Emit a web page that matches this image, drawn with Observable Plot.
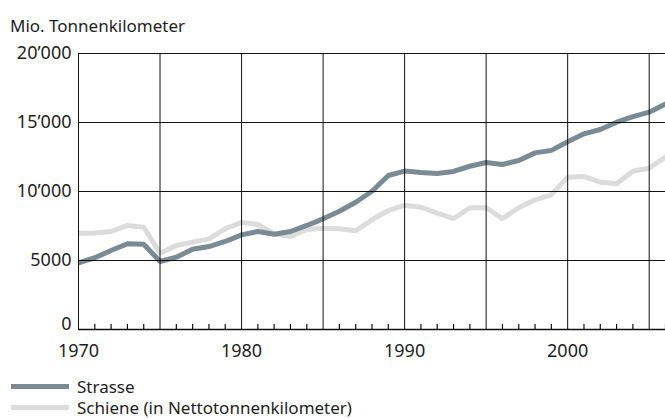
<!DOCTYPE html>
<html><head><meta charset="utf-8">
<script src="https://cdn.jsdelivr.net/npm/d3@7"></script>
<script src="https://cdn.jsdelivr.net/npm/@observablehq/plot@0.6"></script>
<style>
body{margin:0;background:#fff;font-family:"Noto Sans",sans-serif;color:#1e1e1e;}
#wrap{position:relative;width:665px;height:419px;overflow:hidden;}
#title{height:38px;font-size:17px;line-height:20px;padding-left:10px;box-sizing:border-box;padding-top:16px;}
#legend{position:relative;height:49px;font-size:17px;}
.row{position:absolute;left:11px;height:21px;display:flex;align-items:center;}
.sw{width:58px;height:5px;margin-right:8px;}
svg{display:block;}
</style></head>
<body><div id="wrap">
<div id="title">Mio. Tonnenkilometer</div>
<div id="chart"></div>
<div id="legend"></div>
</div>
<script>
const years = [1970,1971,1972,1973,1974,1975,1976,1977,1978,1979,1980,1981,1982,1983,1984,1985,1986,1987,1988,1989,1990,1991,1992,1993,1994,1995,1996,1997,1998,1999,2000,2001,2002,2003,2004,2005,2006];
const strasse = [4830,5200,5720,6210,6180,4930,5240,5820,6010,6380,6860,7100,6900,7100,7540,8020,8570,9220,10020,11160,11480,11380,11300,11450,11830,12100,11960,12250,12800,12980,13600,14180,14490,15020,15430,15750,16350];
const schiene = [6980,7000,7100,7540,7410,5530,6090,6330,6570,7300,7760,7610,6930,6740,7250,7340,7300,7150,7950,8620,9010,8860,8430,8040,8820,8820,8040,8820,9400,9760,11040,11090,10670,10560,11470,11690,12490];
const seriesNames = ["Strasse","Schiene (in Nettotonnenkilometer)"];
const colors = ["#7a8b93","#dcdcdc"];
const majorYears = [1970,1975,1980,1985,1990,1995,2000,2005];
const labelYears = [1970,1980,1990,2000];
const minorYears = years.filter(y => !majorYears.includes(y));
const yTicks = [0,5000,10000,15000,20000];
const yLabels = ["0","5000","10\u2019000","15\u2019000","20\u2019000"];

const rows = [];
years.forEach((y,i)=>{
  rows.push({year:y, value:strasse[i], series:seriesNames[0]});
  rows.push({year:y, value:schiene[i], series:seriesNames[1]});
});

const H = 332, mT = 15, mB = 41;
const fmtY = d => yLabels[yTicks.indexOf(d)];
const chart = Plot.plot({
  width:665, height:H, marginLeft:78, marginRight:0, marginTop:mT, marginBottom:mB,
  style:{fontFamily:'"Noto Sans",sans-serif', fontSize:"18px", color:"#1e1e1e", background:"#fff"},
  x:{domain:[1970,2006]},
  y:{domain:[0,20000]},
  color:{domain:seriesNames, range:colors},
  marks:[
    Plot.lineY(rows.filter(d=>d.series===seriesNames[1]), {x:"year", y:"value", stroke:colors[1], strokeWidth:5, strokeLinejoin:"miter", clip:true}),
    Plot.lineY(rows.filter(d=>d.series===seriesNames[0]), {x:"year", y:"value", stroke:colors[0], strokeWidth:5, strokeLinejoin:"miter", clip:true}),
    Plot.ruleX(majorYears, {stroke:"#111", strokeWidth:1}),
    Plot.ruleY(yTicks.slice(1), {stroke:"#111", strokeWidth:1}),
    Plot.ruleY([0], {stroke:"#111", strokeWidth:1.5}),
    Plot.ruleX(minorYears, {stroke:"#111", strokeWidth:1.2, insetTop:H-mT-mB-5}),
    Plot.axisY({ticks:yTicks.slice(1), tickSize:0, tickPadding:7, tickFormat:fmtY, label:null, fontSize:18}),
    Plot.axisY({ticks:[0], tickSize:0, tickPadding:7, tickFormat:fmtY, label:null, fontSize:18, dy:-5}),
    Plot.axisX({ticks:labelYears, tickSize:0, tickPadding:15, tickFormat:d=>String(d), label:null, fontSize:18})
  ]
});
document.getElementById("chart").appendChild(chart);

const leg = document.getElementById("legend");
seriesNames.forEach((n,i)=>{
  const r = document.createElement("div");
  r.className="row"; r.style.top = (6 + i*21) + "px";
  r.innerHTML = `<div class="sw" style="background:${colors[i]}"></div><span>${n}</span>`;
  leg.appendChild(r);
});
</script>
</body></html>
